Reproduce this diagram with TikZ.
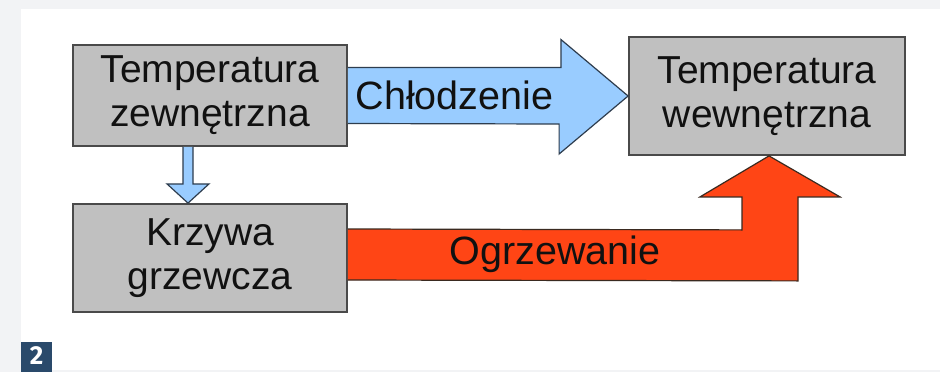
\documentclass[tikz,border=0pt]{standalone}
\usepackage{fontspec}
\setmainfont{Liberation Sans}
\newfontfamily\badgefont{Fira Sans}
\usetikzlibrary{calc}
\definecolor{pagebg}{HTML}{F2F3F5}
\definecolor{boxgray}{HTML}{C0C0C0}
\definecolor{boxline}{HTML}{4A4A4A}
\definecolor{coolblue}{HTML}{99CCFF}
\definecolor{coolline}{HTML}{2E3D4E}
\definecolor{heatred}{HTML}{FF4515}
\definecolor{heatline}{HTML}{3A2A20}
\definecolor{textc}{HTML}{111111}
\definecolor{badgeblue}{HTML}{2A4A6B}
\begin{document}
\begin{tikzpicture}[x=1pt,y=-1pt,
  box/.style={draw=boxline, line width=1.8pt, fill=boxgray, text=textc,
    font=\fontsize{39}{44}\selectfont, align=center, inner sep=0pt},
  coolarrow/.style={fill=coolblue, draw=coolline, line width=1.2pt, line join=miter},
  heatarrow/.style={fill=heatred, draw=heatline, line width=1.2pt, line join=miter},
  arrowlabel/.style={text=textc, font=\fontsize{39.5}{42}\selectfont, inner sep=0pt}]
\fill[pagebg] (0,0) rectangle (940,372);
\fill[white] (21,9) rectangle (940,370);
\useasboundingbox (0,0) rectangle (940,372);
\node[box, minimum width=274pt, minimum height=101pt] (ext) at (210,95.5) {Temperatura\\zewnętrzna};
\node[box, minimum width=274pt, minimum height=108pt] (krz) at (210,258) {Krzywa\\grzewcza};
\node[box, minimum width=276pt, minimum height=118pt] (int) at (767,96) {Temperatura\\wewnętrzna};
% cooling arrow
\draw[coolarrow] ($(ext.east)+(0,-28)$) -- ++(213,0) -- ++(0,-28) -- (int.west)
  -- ($(int.west)+(-69,58)$) -- ++(0,-30) -- ($(ext.east)+(0,28)$);
\node[arrowlabel] (coollbl) at ($(ext.east)+(106.5,0)$) {Chłodzenie};
% small down arrow
\draw[coolarrow] ($(ext.south)+(-27,0)$) -- ++(0,37) -- ++(-16,0) -- ($(krz.north)+(-22,0)$)
  -- ($(ext.south)+(-1,37)$) -- ++(-16,0) -- ($(ext.south)+(-17,0)$);
% heating arrow
\draw[heatarrow] ($(krz.east)+(0,-29)$) -- ($(int.south)+(-25,74)$) -- ++(0,-33) -- ++(-42,0)
  -- ($(int.south)+(2,0)$) -- ($(int.south)+(73,41)$) -- ++(-42,0) -- ++(0,84)
  -- ($(krz.east)+(0,22)$);
\node[arrowlabel] (heatlbl) at (555,254) {Ogrzewanie};
% badge
\fill[badgeblue] (21,342) rectangle (52,372);
\node[text=white, font=\badgefont\bfseries\fontsize{26}{26}\selectfont, inner sep=0pt] (badge) at (36.5,356) {2};
\end{tikzpicture}
\end{document}
